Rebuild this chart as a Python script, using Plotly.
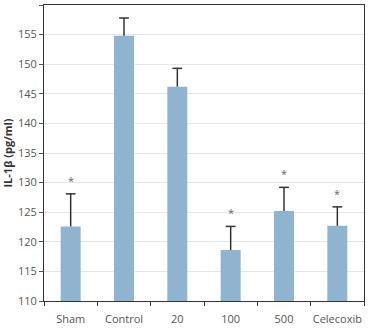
import plotly.graph_objects as go

categories = ["Sham", "Control", "20", "100", "500", "Celecoxib"]
means = [122.6, 154.8, 146.2, 118.6, 125.2, 122.7]
errors = [5.5, 3.0, 3.1, 4.0, 4.0, 3.2]
significant = [True, False, False, True, True, True]
y_ticks = [110, 115, 120, 125, 130, 135, 140, 145, 150, 155, 160]

tops = [m + e for m, e in zip(means, errors)]

fig = go.Figure()
fig.add_trace(go.Bar(
    x=categories, y=means,
    marker=dict(color="#8fb4d0", line=dict(width=0)),
    error_y=dict(type="data", array=errors, arrayminus=[0]*len(errors),
                 symmetric=False, color="#333333", thickness=1.5, width=0),
))
# caps of the upper error bars
fig.add_trace(go.Scatter(
    x=categories, y=tops, mode="markers", hoverinfo="skip",
    marker=dict(symbol="line-ew", size=7, color="#333333",
                line=dict(color="#333333", width=1.5)),
))

for i, (t, s) in enumerate(zip(tops, significant)):
    if s:
        fig.add_annotation(x=i, y=t, text="*", showarrow=False,
                           yanchor="bottom", yshift=4,
                           font=dict(size=11, color="#666666", family="Open Sans"))

fig.update_layout(
    width=372, height=330,
    margin=dict(l=44, r=8, t=4, b=28),
    plot_bgcolor="white", paper_bgcolor="white",
    bargap=0.625, showlegend=False,
    font=dict(family="Open Sans", size=11, color="#555555"),
    xaxis=dict(type="category", range=[-0.5, len(categories) - 0.5],
               categoryorder="array", categoryarray=categories,
               showline=True, linecolor="#333333", linewidth=1,
               mirror=True, ticks="outside", tickson="boundaries", ticklen=4,
               tickcolor="#333333", showgrid=False, tickangle=0,
               ticklabelstandoff=8,
               tickfont=dict(size=11, color="#555555")),
    yaxis=dict(range=[110, 160], tickvals=y_ticks, showline=True,
               linecolor="#333333", linewidth=1, mirror=True, ticks="outside",
               ticklen=4, tickcolor="#555555", showgrid=True,
               gridcolor="#e6e6e6", gridwidth=1, zeroline=False,
               tickfont=dict(size=11, color="#555555"),
               title=dict(text="<b>IL-1β (pg/ml)</b>", standoff=3,
                          font=dict(size=11, color="#333333"))),
)

fig.write_html("out.html")
